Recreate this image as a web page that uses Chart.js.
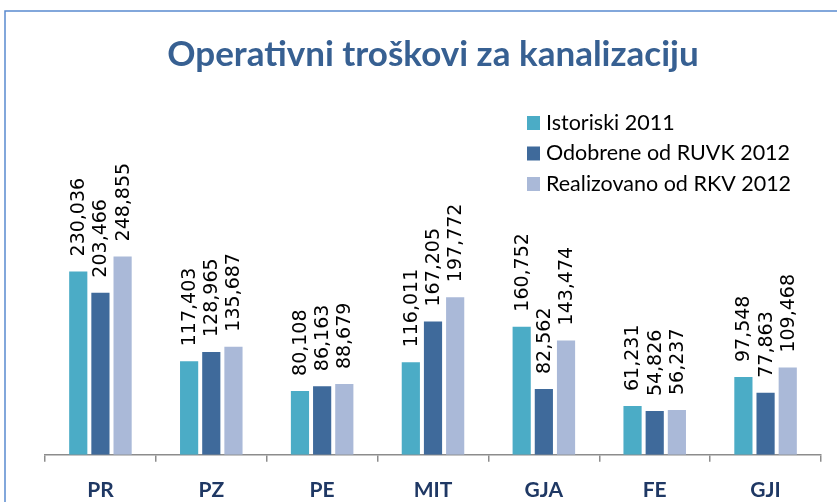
<!DOCTYPE html>
<html lang="en">
<head>
    <meta charset="UTF-8">
    <title>Operativni troškovi za kanalizaciju</title>
    <script src="https://cdn.jsdelivr.net/npm/chart.js"></script>
    <style>
        body { margin: 0; background: #fff; }
        .chart-container { width: 837px; height: 502px; position: relative; }
    </style>
</head>
<body>
    <div class="chart-container">
      <canvas id="costs-chart" width="837" height="502"></canvas>
    </div>
    <script>
        // data
        const categories = ['PR', 'PZ', 'PE', 'MIT', 'GJA', 'FE', 'GJI'];
        const seriesNames = ['Istoriski 2011', 'Odobrene od RUVK 2012', 'Realizovano od RKV 2012'];
        const istoriski2011 = [230036, 117403, 80108, 116011, 160752, 61231, 97548];
        const odobrene2012 = [203466, 128965, 86163, 167205, 82562, 54826, 77863];
        const realizovano2012 = [248855, 135687, 88679, 197772, 143474, 56237, 109468];
        const colors = ['#4BACC6', '#3F6A9B', '#AAB9D8'];

        const fmt = v => v.toLocaleString('en-US');

        // rotated value labels above each bar
        const valueLabels = {
          id: 'valueLabels',
          afterDatasetsDraw(chart) {
            const c = chart.ctx;
            c.save();
            c.font = '19px "DejaVu Sans"';
            c.fillStyle = '#000';
            c.textAlign = 'left';
            c.textBaseline = 'middle';
            chart.data.datasets.forEach((ds, i) => {
              chart.getDatasetMeta(i).data.forEach((bar, j) => {
                c.save();
                c.translate(bar.x + 1, bar.y - 15);
                c.rotate(-Math.PI / 2);
                c.fillText(fmt(ds.data[j]), 0, 0);
                c.restore();
              });
            });
            c.restore();
          }
        };

        // legend box in the top right corner, plus the frame lines
        const sideLegend = {
          id: 'sideLegend',
          afterDraw(chart) {
            const c = chart.ctx;
            c.save();
            c.strokeStyle = '#5A8AD0';
            c.lineWidth = 1.5;
            c.beginPath();
            c.moveTo(5, 502);
            c.lineTo(5, 11);
            c.lineTo(837, 11);
            c.stroke();
            c.font = '21.5px Lato';
            c.textBaseline = 'middle';
            chart.data.datasets.forEach((ds, i) => {
              const y = 123 + i * 30.5;
              c.fillStyle = ds.backgroundColor;
              c.fillRect(527, y - 7, 13, 14);
              c.fillStyle = '#000';
              c.fillText(ds.label, 546, y);
            });
            c.restore();
          }
        };

        const ctx = document.getElementById('costs-chart').getContext('2d');
        new Chart(ctx, {
          type: 'bar',
          data: {
            labels: categories,
            datasets: [
              { label: seriesNames[0], data: istoriski2011, backgroundColor: colors[0] },
              { label: seriesNames[1], data: odobrene2012, backgroundColor: colors[1] },
              { label: seriesNames[2], data: realizovano2012, backgroundColor: colors[2] }
            ]
          },
          options: {
            responsive: false,
            animation: false,
            datasets: { bar: { categoryPercentage: 0.6, barPercentage: 0.82 } },
            layout: { padding: { left: 45, right: 16, top: 0, bottom: -17 } },
            plugins: {
              legend: { display: false },
              tooltip: { enabled: false },
              title: {
                display: true,
                text: 'Operativni troškovi za kanalizaciju',
                color: '#376092',
                font: { family: 'Lato', size: 35, weight: 'bold', lineHeight: 1.2 },
                padding: { top: 34, bottom: 60 }
              }
            },
            scales: {
              y: { display: false, min: 0, max: 400000 },
              x: {
                border: { display: true, color: '#8C8C8C', width: 1.5 },
                grid: { display: true, drawOnChartArea: false, drawTicks: true, tickLength: 7, color: '#8C8C8C', lineWidth: 1.5 },
                ticks: {
                  color: '#1F3864',
                  padding: 16,
                  font: { family: 'Lato', size: 21, weight: 'bold' }
                }
              }
            }
          },
          plugins: [valueLabels, sideLegend]
        });
    </script>
</body>
</html>
